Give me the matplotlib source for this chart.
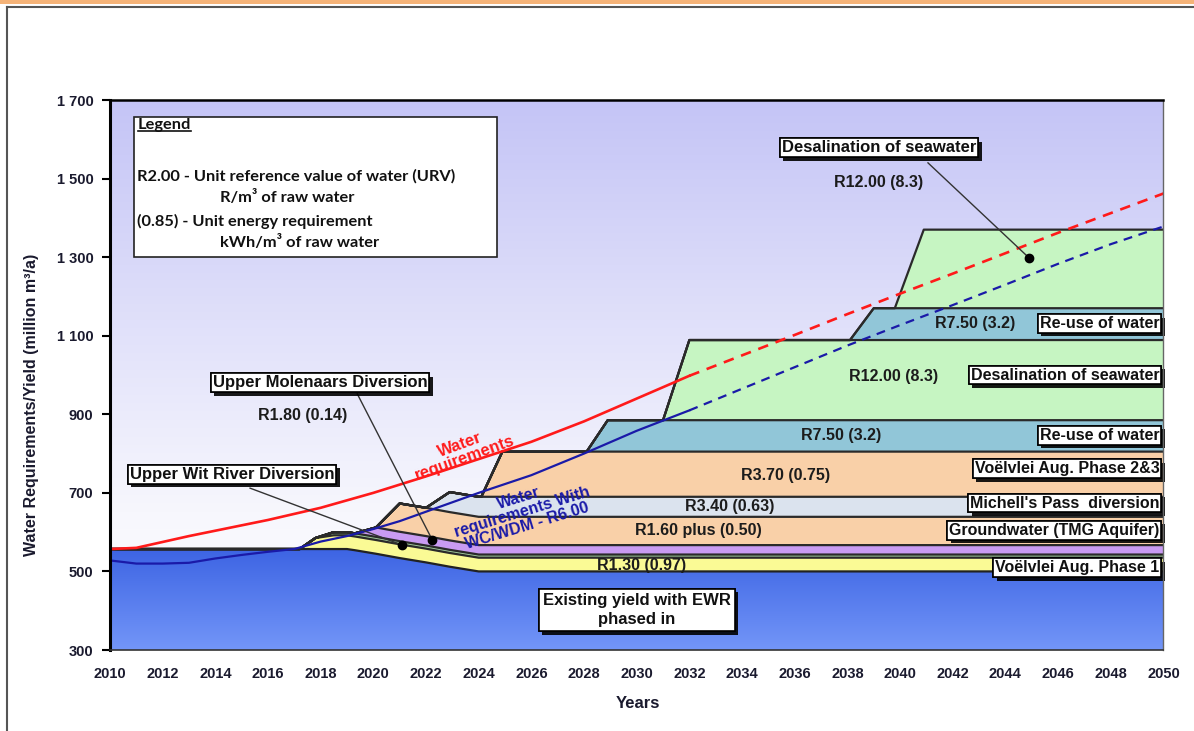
import numpy as np
import matplotlib
matplotlib.use('Agg')
import matplotlib.pyplot as plt
import matplotlib.patheffects as pe
from matplotlib.colors import LinearSegmentedColormap
from matplotlib.patches import Rectangle, Polygon
from matplotlib.lines import Line2D

# ==================== DATA ====================
# common year grid for the stacked supply schemes (million m3/a per scheme)
years = [2010, 2017.2, 2017.8, 2018.5, 2019, 2019.3, 2020.1, 2021, 2022, 2022.9, 2024,
         2024.1, 2024.9, 2028.1, 2028.9, 2031, 2032, 2038.1, 2039, 2039.8, 2040.9, 2050]

existing    = [557, 557, 557, 557, 557, 554, 545, 534, 523, 512, 500,
               500, 500, 500, 500, 500, 500, 500, 500, 500, 500, 500]
voelvlei_1  = [0, 0, 28, 35, 35, 35, 35, 35, 35, 35, 35,
               35, 35, 35, 35, 35, 35, 35, 35, 35, 35, 35]
upper_wit   = [0, 0, 0, 8, 8, 8, 8, 8, 8, 8, 8,
               8, 8, 8, 8, 8, 8, 8, 8, 8, 8, 8]
molenaars   = [0, 0, 0, 0, 0, 0, 24, 24, 24, 24, 24,
               24, 24, 24, 24, 24, 24, 24, 24, 24, 24, 24]
groundwater = [0, 0, 0, 0, 0, 0, 0, 72, 72, 72, 72,
               72, 72, 72, 72, 72, 72, 72, 72, 72, 72, 72]
michells    = [0, 0, 0, 0, 0, 0, 0, 0, 0, 51, 51,
               51, 51, 51, 51, 51, 51, 51, 51, 51, 51, 51]
voelvlei_23 = [0, 0, 0, 0, 0, 0, 0, 0, 0, 0, 0,
               0, 115, 115, 115, 115, 115, 115, 115, 115, 115, 115]
reuse_1     = [0, 0, 0, 0, 0, 0, 0, 0, 0, 0, 0,
               0, 0, 0, 80, 80, 80, 80, 80, 80, 80, 80]
desal_1     = [0, 0, 0, 0, 0, 0, 0, 0, 0, 0, 0,
               0, 0, 0, 0, 0, 204, 204, 204, 204, 204, 204]
reuse_2     = [0, 0, 0, 0, 0, 0, 0, 0, 0, 0, 0,
               0, 0, 0, 0, 0, 0, 0, 81, 81, 81, 81]
desal_2     = [0, 0, 0, 0, 0, 0, 0, 0, 0, 0, 0,
               0, 0, 0, 0, 0, 0, 0, 0, 0, 200, 200]

# water requirement projections
req_years = [2010, 2011, 2013, 2016, 2018, 2020, 2022, 2024, 2026, 2028, 2030,
             2032, 2034, 2036, 2038, 2040, 2042, 2044, 2046, 2048, 2050]
req       = [557, 560, 590, 631, 662, 700, 742, 786, 830, 882, 940,
             998, 1050, 1102, 1155, 1207, 1258, 1310, 1362, 1412, 1462]

wdm_years = [2010, 2011, 2012, 2013, 2014, 2015, 2016, 2017, 2018, 2019, 2020, 2021, 2022,
             2024, 2026, 2028, 2030, 2032, 2034, 2036, 2038, 2040, 2042, 2044, 2046, 2048, 2050]
req_wdm   = [528, 520, 520, 522, 533, 542, 550, 557, 576, 590, 608, 628, 652,
             700, 745, 800, 858, 910, 965, 1020, 1075, 1127, 1178, 1230, 1283, 1333, 1378]

split_year = 2032   # projections dashed beyond this year

x_ticks = list(range(2010, 2051, 2))
y_ticks = [300, 500, 700, 900, 1100, 1300, 1500, 1700]

# ==================== STYLE ====================
plt.rcParams['font.family'] = ['Liberation Sans', 'DejaVu Sans']
plt.rcParams['font.weight'] = 'bold'

layers = [
    (voelvlei_1,  '#fafa95'),
    (upper_wit,   '#a6d3a0'),
    (molenaars,   '#c99bf2'),
    (groundwater, '#f9d0a8'),
    (michells,    '#dbe3ee'),
    (voelvlei_23, '#f9d0a8'),
    (reuse_1,     '#91c6d8'),
    (desal_1,     '#c6f5c2'),
    (reuse_2,     '#91c6d8'),
    (desal_2,     '#c6f5c2'),
]

fig = plt.figure(figsize=(11.94, 7.31), dpi=100)
ax = fig.add_axes([0.0921, 0.1108, 0.8823, 0.7524])

# ==================== BACKGROUND ====================
bg_cmap = LinearSegmentedColormap.from_list(
    'bg', [(0, '#ffffff'), (0.25, '#f7f7fd'), (0.6, '#e0e0fa'), (1, '#c4c4f6')])
ax.imshow(np.linspace(0, 1, 256).reshape(-1, 1), extent=[2010, 2050, 300, 1700],
          origin='lower', aspect='auto', cmap=bg_cmap, zorder=0)

# existing yield with a vertical blue shade
blue_cmap = LinearSegmentedColormap.from_list('blue', ['#7396f8', '#3c63e3'])
base_poly = Polygon(np.column_stack([[2010] + years + [2050], [300] + existing + [300]]),
                    closed=True, facecolor='none', edgecolor='none')
ax.add_patch(base_poly)
shade = ax.imshow(np.linspace(0, 1, 256).reshape(-1, 1), extent=[2010, 2050, 300, 560],
                  origin='lower', aspect='auto', cmap=blue_cmap, zorder=1)
shade.set_clip_path(base_poly)
ax.plot(years, existing, color='#222222', lw=1.6, zorder=3)

# ==================== STACKED SCHEMES ====================
bottom = np.array(existing, dtype=float)
for vals, col in layers:
    top = bottom + np.array(vals, dtype=float)
    ax.fill_between(years, bottom, top, facecolor=col, edgecolor='none', zorder=2)
    ax.plot(years, top, color='#2a2a2a', lw=1.6, zorder=3)
    bottom = top

# ==================== REQUIREMENT LINES ====================
ry = np.array(req_years)
wy = np.array(wdm_years)
req_a = np.array(req)
wdm_a = np.array(req_wdm)
ax.plot(ry[ry <= split_year], req_a[ry <= split_year], color='#ff1a1a', lw=1.9, zorder=5)
ax.plot(ry[ry >= split_year], req_a[ry >= split_year], color='#ff1a1a', lw=1.9,
        dashes=(4, 3), zorder=5)
ax.plot(wy[wy <= split_year], wdm_a[wy <= split_year], color='#1a1aa8', lw=1.6, zorder=5)
ax.plot(wy[wy >= split_year], wdm_a[wy >= split_year], color='#1a1aa8', lw=1.6,
        dashes=(4, 3), zorder=5)

ax.text(2023.38, 806, 'Water\nrequirements', color='#ff1a1a', fontsize=12,
        ha='center', va='center', rotation=20, linespacing=0.95, zorder=6)
ax.text(2025.67, 651, 'Water\nrequirements With\nWC/WDM - R6.00', color='#1a1aa8',
        fontsize=11.5, ha='center', va='center', rotation=17, linespacing=0.95, zorder=6)

# ==================== LABELS ====================
shadow = [pe.withSimplePatchShadow(offset=(2.5, -2.5), shadow_rgbFace='black', alpha=0.9),
          pe.Normal()]


def boxed(x, y, s, size=12, ha='center', pad=0.12):
    t = ax.text(x, y, s, ha=ha, va='center', fontsize=size, color='#111111',
                zorder=8, linespacing=1.35,
                bbox=dict(boxstyle=f'square,pad={pad}', fc='white', ec='black', lw=1.2))
    t.get_bbox_patch().set_path_effects(shadow)
    return t


def value(x, y, s):
    ax.text(x, y, s, ha='center', va='center', fontsize=11.5, color='#1c1c1c', zorder=7)


def leader(x0, y0, x1, y1):
    ax.plot([x0, x1], [y0, y1], color='#333333', lw=1, zorder=7)
    ax.plot(x1, y1, 'o', color='black', ms=6, zorder=7)


# scheme names along the right edge
right_x = 2049.85
boxed(right_x, 1131, 'Re-use of water', size=11.5, ha='right')
boxed(right_x, 1000, 'Desalination of seawater', size=11.5, ha='right')
boxed(right_x, 847, 'Re-use of water', size=11.5, ha='right')
boxed(right_x, 761, 'Voëlvlei Aug. Phase 2&3', size=11.5, ha='right')
boxed(right_x, 674, "Michell's Pass  diversion", size=11.5, ha='right')
boxed(right_x, 605, 'Groundwater (TMG Aquifer)', size=11.5, ha='right')
boxed(right_x, 509, 'Voëlvlei Aug. Phase 1', size=11.5, ha='right')

# unit costs (energy)
value(2042.85, 1132, 'R7.50 (3.2)')
value(2039.77, 995, 'R12.00 (8.3)')
value(2037.76, 845, 'R7.50 (3.2)')
value(2035.67, 745, 'R3.70 (0.75)')
value(2033.54, 666, 'R3.40 (0.63)')
value(2032.36, 605, 'R1.60 plus (0.50)')
value(2030.19, 516, 'R1.30 (0.97)')

boxed(2030.0, 402, 'Existing yield with EWR\nphased in', pad=0.25)

# call-outs for the small schemes
leader(2019.39, 952, 2022.24, 580)
boxed(2017.98, 980, 'Upper Molenaars Diversion')
value(2017.30, 898, 'R1.80 (0.14)')

leader(2015.32, 712, 2021.10, 567)
boxed(2014.64, 748, 'Upper Wit River Diversion')

leader(2041.06, 1540, 2044.90, 1298)
boxed(2039.20, 1578, 'Desalination of seawater')
value(2039.20, 1491, 'R12.00 (8.3)')

# ==================== LEGEND BOX ====================
ax.add_patch(Rectangle((2010.91, 1300), 13.8, 356.6, facecolor='white', edgecolor='#222222',
                       lw=1.2, zorder=7))
lg = dict(family=['Lato', 'DejaVu Sans'], fontsize=11.8, color='#111111', va='center', zorder=8)
leg_title = ax.text(2011.06, 1636, 'Legend', ha='left', **lg)
ax.text(2011.03, 1506, 'R2.00 - Unit reference value of water (URV)', ha='left', **lg)
ax.text(2014.18, 1453, 'R/m³ of raw water', ha='left', **lg)
ax.text(2011.03, 1392, '(0.85) - Unit energy requirement', ha='left', **lg)
ax.text(2014.18, 1338, 'kWh/m³ of raw water', ha='left', **lg)

# ==================== AXES ====================
ax.set_xlim(2010, 2050)
ax.set_ylim(300, 1700)
ax.set_xticks(x_ticks)
ax.set_xticklabels([str(y) for y in x_ticks])
ax.set_yticks(y_ticks)
ax.set_yticklabels([f'{v:,}'.replace(',', ' ') for v in y_ticks])
ax.tick_params(axis='x', length=0, pad=12, labelsize=10.5, labelcolor='#1a1a2e')
ax.tick_params(axis='y', direction='out', length=6, width=1.5, pad=6, labelsize=10.5,
               labelcolor='#1a1a2e')
for lab in ax.get_xticklabels() + ax.get_yticklabels():
    lab.set_fontweight('bold')

ax.spines['left'].set_linewidth(2.2)
ax.spines['top'].set_linewidth(1.8)
ax.spines['right'].set_linewidth(1.0)
ax.spines['right'].set_color('#666666')
ax.spines['bottom'].set_linewidth(1.2)
ax.spines['bottom'].set_color('#333333')
for s in ax.spines.values():
    s.set_zorder(9)

fig.text(0.0268, 0.446, 'Water Requirements/Yield (million m³/a)', rotation=90,
         ha='center', va='center', fontsize=11.5, color='#1a1a2e')
fig.text(0.534, 0.038, 'Years', ha='center', va='center', fontsize=12, color='#1a1a2e')

# slide frame
fig.add_artist(Rectangle((0, 1 - 4 / 731), 1, 4 / 731, transform=fig.transFigure,
                         facecolor='#f5b378', edgecolor='none'))
fig.add_artist(Line2D([7 / 1194, 1], [1 - 7 / 731] * 2, transform=fig.transFigure,
                      color='#555555', lw=1.5))
fig.add_artist(Line2D([7 / 1194] * 2, [0, 1 - 7 / 731], transform=fig.transFigure,
                      color='#555555', lw=1.5))

# underline the legend heading
fig.canvas.draw()
bb = leg_title.get_window_extent().transformed(fig.transFigure.inverted())
fig.add_artist(Line2D([bb.x0, bb.x1], [bb.y0 + 0.002] * 2, transform=fig.transFigure,
                      color='#111111', lw=1.2, zorder=10))

fig.savefig('out.png', dpi=100)
